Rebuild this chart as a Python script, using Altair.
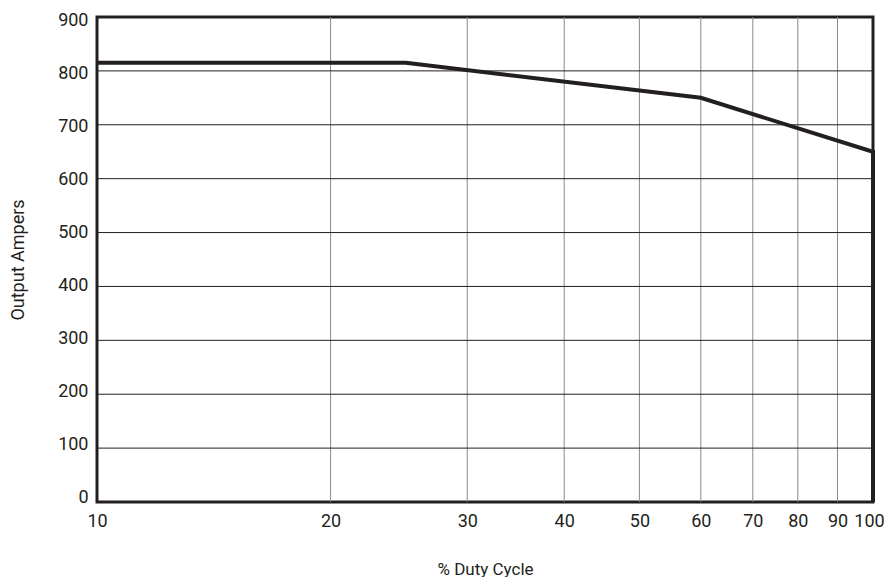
import altair as alt
import pandas as pd

duty_cycle = [10, 25, 60, 100, 100]
output_amps = [815, 815, 750, 650, 0]
x_ticks = [10, 20, 30, 40, 50, 60, 70, 80, 90, 100]
y_ticks = [0, 100, 200, 300, 400, 500, 600, 700, 800, 900]

df = pd.DataFrame({"duty": duty_cycle, "amps": output_amps, "order": list(range(len(duty_cycle)))})

FONT = "Roboto"
INK = "#231f20"

xs = alt.Scale(type="log", domain=[10, 100])
ys = alt.Scale(domain=[0, 900])

x_grid = alt.Chart(pd.DataFrame({"v": x_ticks[1:-1]})).mark_rule(color="#8a8a8a", strokeWidth=1).encode(
    x=alt.X("v:Q", scale=xs)
)
y_grid = alt.Chart(pd.DataFrame({"v": y_ticks[1:-1]})).mark_rule(color=INK, strokeWidth=1).encode(
    y=alt.Y("v:Q", scale=ys)
)

line = alt.Chart(df).mark_line(color=INK, strokeWidth=4, strokeJoin="miter").encode(
    x=alt.X("duty:Q", scale=xs,
            axis=alt.Axis(values=x_ticks, format="d", title="% Duty Cycle", grid=False,
                          ticks=False, domain=False, labelPadding=10,
                          labelOffset={"condition": {"test": "datum.value == 100", "value": -4}, "value": 0},
                          titleY=67, titleBaseline="middle",
                          labelFontSize=18, titleFontSize=17, labelFont=FONT, titleFont=FONT,
                          labelColor=INK, titleColor=INK, titleFontWeight="normal",
                          labelFlush=False)),
    y=alt.Y("amps:Q", scale=ys,
            axis=alt.Axis(values=y_ticks, title="Output Ampers", grid=False, ticks=False,
                          domain=False, labelPadding=9,
                          labelOffset={"expr": "-5 + datum.value * 8 / 900"},
                          titleX=-79, titleBaseline="middle",
                          labelFontSize=18, titleFontSize=18, labelFont=FONT, titleFont=FONT,
                          labelColor=INK, titleColor=INK, titleFontWeight="normal")),
    order="order:Q",
)

chart = alt.layer(x_grid, y_grid, line).properties(
    width=776, height=485,
    autosize=alt.AutoSizeParams(type="none"),
    padding={"left": 89, "top": 9, "right": 12, "bottom": 75},
).configure_view(stroke=INK, strokeWidth=3)

chart.save("out.html", embed_options={"renderer": "svg", "actions": False})
